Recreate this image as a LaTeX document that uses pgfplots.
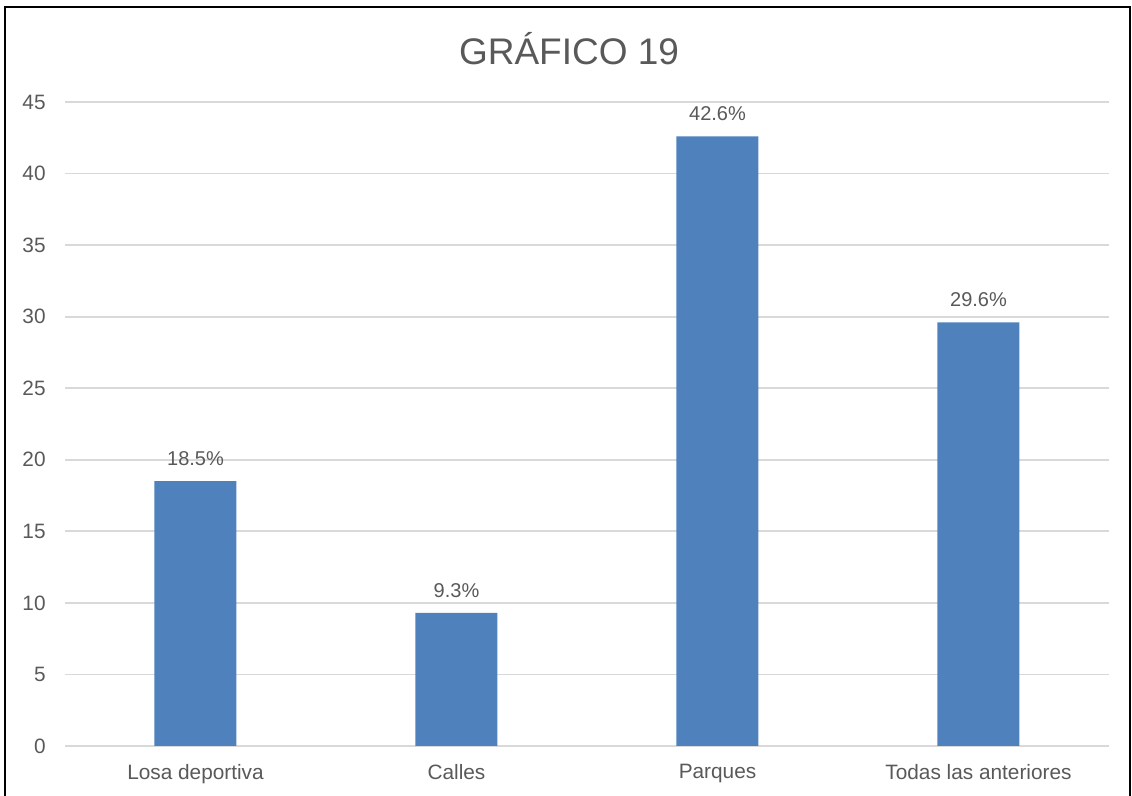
\documentclass[border=0pt]{standalone}
\usepackage{fontspec}
\setmainfont{Liberation Sans}
\usepackage{pgfplots}
\pgfplotsset{compat=1.18}

\definecolor{barblue}{RGB}{79,129,189}
\definecolor{gridgray}{RGB}{217,217,217}
\definecolor{textgray}{RGB}{89,89,89}

\begin{document}
\begin{tikzpicture}[x=0.5pt,y=0.5pt]
  % page = 1132 x 796 px, origin bottom left
  \path[use as bounding box] (0,0) rectangle (1132,796);
  \draw[black,line width=1pt] (5,-4) -- (5,789) -- (1130,789) -- (1130,-4);
  \node[text=textgray,font=\fontsize{18.5}{22}\selectfont] at (569,747) {GRÁFICO 19};

  \begin{axis}[
      at={(65pt/2,50pt/2)}, anchor=south west,
      scale only axis,
      width=522pt, height=322pt,
      ybar,
      bar width=41pt,
      xmin=-0.5, xmax=3.5,
      ymin=0, ymax=45,
      xtick={0,1,2,3},
      xticklabels={Losa deportiva, Calles, Parques, Todas las anteriores},
      ytick={0,5,...,45},
      ymajorgrids=true,
      grid style={gridgray, line width=0.9pt},
      axis line style={draw=none},
      major tick length=0pt,
      /pgf/number format/assume math mode=true,
      tick label style={text=textgray, font=\fontsize{10.4}{12}\selectfont, inner sep=0pt},
      yticklabel style={anchor=east, xshift=-9.5pt},
      xticklabel style={anchor=north, yshift=-9pt},
      nodes near coords={\pgfmathprintnumber[fixed,fixed zerofill,precision=1]{\pgfplotspointmeta}\%},
      nodes near coords style={text=textgray, font=\fontsize{10}{12}\selectfont, anchor=south, inner sep=0pt, yshift=7.5pt},
      clip=false,
    ]
    \addplot[fill=barblue, draw=none] coordinates {(0,18.5) (1,9.3) (2,42.6) (3,29.6)};
  \end{axis}
\end{tikzpicture}
\end{document}
